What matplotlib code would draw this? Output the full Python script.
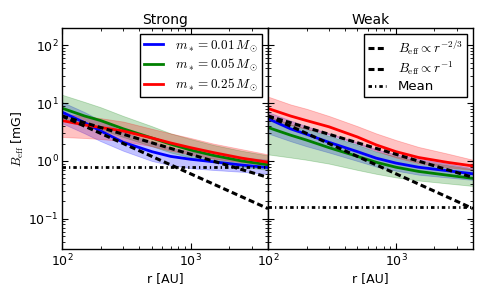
import matplotlib
matplotlib.use("Agg")
import matplotlib.pyplot as plt

plt.rcParams['mathtext.fontset'] = 'cm'
plt.rcParams['font.family'] = ['DejaVu Sans']
plt.rcParams['lines.scale_dashes'] = False

# radii sampled [AU]
r = [100, 150, 200, 300, 500, 700, 1000, 1500, 2500, 4000]

# Strong field panel
strong_blue = [7.0, 4.6, 3.3, 2.1, 1.45, 1.2, 1.07, 0.97, 0.85, 0.77]
strong_blue_lo = [4.5, 3.0, 2.2, 1.5, 1.0, 0.85, 0.75, 0.7, 0.65, 0.6]
strong_blue_hi = [10.5, 7.0, 5.0, 3.2, 2.1, 1.7, 1.45, 1.3, 1.15, 1.05]
strong_green = [8.2, 6.0, 5.0, 3.6, 2.5, 1.95, 1.55, 1.25, 1.0, 0.86]
strong_green_lo = [5.5, 4.2, 3.5, 2.6, 1.8, 1.4, 1.15, 0.95, 0.8, 0.7]
strong_green_hi = [14.0, 10.5, 8.5, 6.0, 4.0, 3.0, 2.4, 1.9, 1.5, 1.25]
strong_red = [5.0, 4.2, 3.8, 3.3, 2.5, 2.05, 1.7, 1.4, 1.12, 0.95]
strong_red_lo = [2.6, 2.5, 2.4, 2.2, 1.8, 1.5, 1.3, 1.1, 0.95, 0.85]
strong_red_hi = [6.5, 6.0, 5.5, 4.8, 3.6, 3.0, 2.5, 2.0, 1.6, 1.3]

# Weak field panel
weak_blue = [5.4, 3.6, 2.9, 2.1, 1.45, 1.12, 0.92, 0.78, 0.68, 0.6]
weak_blue_lo = [3.0, 2.2, 1.8, 1.4, 1.0, 0.8, 0.68, 0.58, 0.52, 0.47]
weak_blue_hi = [7.0, 5.0, 4.0, 3.0, 2.1, 1.6, 1.3, 1.08, 0.9, 0.75]
weak_green = [3.8, 2.8, 2.3, 1.7, 1.2, 0.95, 0.78, 0.66, 0.57, 0.5]
weak_green_lo = [1.3, 1.15, 1.05, 0.9, 0.7, 0.6, 0.52, 0.46, 0.41, 0.37]
weak_green_hi = [6.0, 4.3, 3.6, 2.7, 1.9, 1.45, 1.2, 1.0, 0.85, 0.72]
weak_red = [8.1, 6.0, 5.0, 3.9, 2.6, 1.9, 1.45, 1.15, 0.95, 0.82]
weak_red_lo = [5.5, 4.2, 3.6, 2.9, 2.0, 1.5, 1.15, 0.92, 0.78, 0.7]
weak_red_hi = [13.0, 9.5, 8.0, 6.0, 4.0, 3.0, 2.3, 1.75, 1.35, 1.05]

# reference power laws and mean (end points)
r_ref = [100, 4000]
pl_23 = [6.0, 0.52]
pl_1 = [6.0, 0.15]
mean_strong = [0.8, 0.8]
mean_weak = [0.16, 0.16]

labels = [r'$m_*=0.01\,M_\odot$', r'$m_*=0.05\,M_\odot$', r'$m_*=0.25\,M_\odot$']
colors = ['blue', 'green', 'red']

dash = (0, (4.3, 2.4))
dashdot = (0, (2.5, 2.2, 0.9, 2.2))

fig = plt.figure(figsize=(4.98, 2.85), dpi=100)
ax1 = fig.add_axes([0.1245, 0.1263, 0.4137, 0.7755])
ax2 = fig.add_axes([0.5382, 0.1263, 0.4116, 0.7755], sharey=ax1)

panels = [
    (ax1, 'Strong', [(strong_blue, strong_blue_lo, strong_blue_hi),
                     (strong_green, strong_green_lo, strong_green_hi),
                     (strong_red, strong_red_lo, strong_red_hi)], mean_strong),
    (ax2, 'Weak', [(weak_blue, weak_blue_lo, weak_blue_hi),
                   (weak_green, weak_green_lo, weak_green_hi),
                   (weak_red, weak_red_lo, weak_red_hi)], mean_weak),
]

leg_kw = dict(loc='upper right', fontsize=9.5, fancybox=False, edgecolor='black',
              framealpha=1, handlelength=1.4, handletextpad=0.9, labelspacing=0.22,
              borderpad=0.3, borderaxespad=0.45)

for ax, title, series, mean in panels:
    handles = []
    for (mid, lo, hi), c, lab in zip(series, colors, labels):
        ax.fill_between(r, lo, hi, color=c, alpha=0.24, lw=0.6, edgecolor=c)
        h, = ax.plot(r, mid, color=c, lw=2, label=lab)
        handles.append(h)
    d1, = ax.plot(r_ref, pl_23, color='k', ls=dash, lw=2.2, label=r'$B_{\rm eff}\propto r^{-2/3}$')
    d2, = ax.plot(r_ref, pl_1, color='k', ls=dash, lw=2.2, label=r'$B_{\rm eff}\propto r^{-1}$')
    mn, = ax.plot(r_ref, mean, color='k', ls=dashdot, lw=2, label='Mean')
    ax.set_xscale('log')
    ax.set_yscale('log')
    ax.set_xlim(100, 4000)
    ax.set_ylim(0.03, 200)
    ax.set_title(title, fontsize=10, pad=3)
    ax.set_xlabel('r [AU]', fontsize=9, labelpad=2)
    ax.tick_params(which='both', direction='in', top=True, right=True, labelsize=9, pad=2.5)
    ax.tick_params(which='major', length=4, width=0.8)
    ax.tick_params(which='minor', length=2, width=0.6)
    for s in ax.spines.values():
        s.set_linewidth(1.0)
    if ax is ax1:
        leg = ax.legend(handles=handles, **leg_kw)
    else:
        leg = ax.legend(handles=[d1, d2, mn], **leg_kw)
    leg.get_frame().set_linewidth(1.0)

ax1.set_ylabel(r'$B_{\rm eff}$ [mG]', fontsize=9, labelpad=2)
plt.setp(ax2.get_yticklabels(), visible=False)

fig.savefig('out.png', dpi=100)
